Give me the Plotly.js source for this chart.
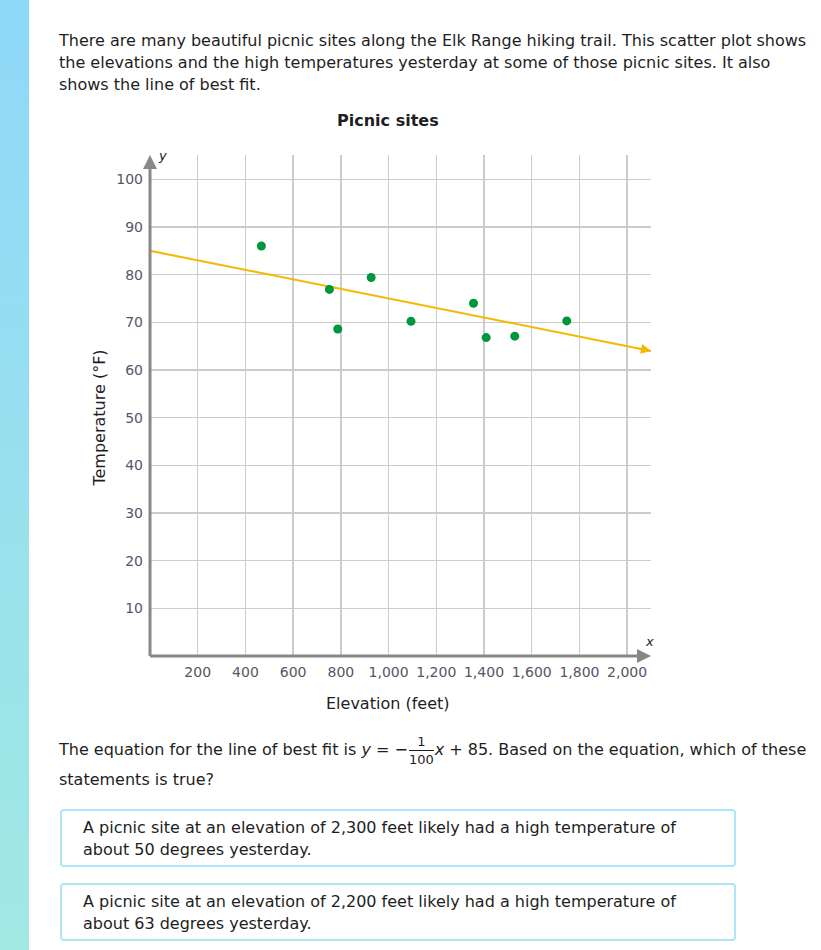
<!DOCTYPE html>
<html>
<head>
<meta charset="utf-8">
<script src="https://cdn.plot.ly/plotly-3.0.1.min.js"></script>
<style>
  html, body { margin:0; padding:0; background:#fff; }
  body { width:821px; height:950px; position:relative; overflow:hidden;
         font-family:"DejaVu Sans",sans-serif; color:#1e1e1e; }
  #bar { position:absolute; left:0; top:0; width:29px; height:950px;
         background:linear-gradient(#8ed8f9,#a2e8e3); }
  #intro { position:absolute; left:59px; top:30px; font-size:16px; line-height:22px; white-space:nowrap; }
  #chart { position:absolute; left:0; top:0; width:821px; height:720px; }
  #eq { position:absolute; left:59px; top:733px; font-size:16px; line-height:22px; white-space:nowrap; }
  .frac { display:inline-block; vertical-align:middle; text-align:center; font-size:13px; line-height:19px; margin:0 1px; }
  .frac .num { display:block; border-bottom:1px solid #1e1e1e; padding:0 1px; line-height:17px; }
  .frac .den { display:block; line-height:17px; }
  #q2 { position:absolute; left:59px; top:770px; font-size:16px; white-space:nowrap; }
  .box { position:absolute; left:60px; width:672px; height:54px; border:2px solid #aee6f9; border-radius:4px;
         font-size:16px; line-height:22px; white-space:nowrap; }
  .box div { position:absolute; left:21px; top:6px; }
</style>
</head>
<body>
<div id="bar"></div>
<div id="intro">There are many beautiful picnic sites along the Elk Range hiking trail. This scatter plot shows<br>the elevations and the high temperatures yesterday at some of those picnic sites. It also<br>shows the line of best fit.</div>
<div id="chart"></div>
<div id="eq">The equation for the line of best fit is <i>y</i> = &minus;<span class="frac"><span class="num">1</span><span class="den">100</span></span><i>x</i> + 85. Based on the equation, which of these</div>
<div id="q2">statements is true?</div>
<div class="box" style="top:809px;"><div>A picnic site at an elevation of 2,300 feet likely had a high temperature of<br>about 50 degrees yesterday.</div></div>
<div class="box" style="top:883px;"><div>A picnic site at an elevation of 2,200 feet likely had a high temperature of<br>about 63 degrees yesterday.</div></div>
<script>
// Data
const elevation = [467, 752, 787, 927, 1094, 1356, 1409, 1529, 1747];
const temperature = [86.0, 76.9, 68.6, 79.4, 70.2, 74.0, 66.8, 67.1, 70.3];
const fitX = [0, 2100];
const fitY = fitX.map(x => -x/100 + 85); // line of best fit y = -x/100 + 85
const xTicks = [200, 400, 600, 800, 1000, 1200, 1400, 1600, 1800, 2000];
const xTickText = ["200","400","600","800","1,000","1,200","1,400","1,600","1,800","2,000"];
const yTicks = [10, 20, 30, 40, 50, 60, 70, 80, 90, 100];

const FONT = '"DejaVu Sans",sans-serif';
const AX = '#888888';
const FIT = '#f5b700';

const traces = [
  { x: fitX, y: fitY, mode: 'lines', line: {color:FIT, width:2}, hoverinfo:'skip', cliponaxis:false },
  { x: elevation, y: temperature, mode: 'markers', marker: {color:'#00963c', size:9}, cliponaxis:false }
];

const layout = {
  width: 821, height: 720,
  margin: {l:150, r:170, t:155, b:64},
  paper_bgcolor: 'rgba(0,0,0,0)', plot_bgcolor: 'rgba(0,0,0,0)',
  showlegend: false,
  font: {family: FONT, size: 14, color:'#555566'},
  xaxis: { range:[0,2100], tickvals:xTicks, ticktext:xTickText, showgrid:true, gridcolor:'#cccccc', gridwidth:1.5,
           zeroline:false, showline:false, ticks:'', ticklabelstandoff:6, fixedrange:true },
  yaxis: { range:[0,105.1], tickvals:yTicks, showgrid:true, gridcolor:'#cccccc', gridwidth:1.5,
           zeroline:false, showline:false, ticks:'', ticklabelstandoff:6, fixedrange:true },
  shapes: [
    {type:'line', xref:'paper', yref:'paper', x0:0, y0:0, x1:0, y1:0.98, line:{color:AX, width:3}},
    {type:'line', xref:'paper', yref:'paper', x0:0, y0:0, x1:0.98, y1:0, line:{color:AX, width:3}},
    {type:'path', xref:'paper', yref:'paper', xsizemode:'pixel', ysizemode:'pixel', xanchor:0, yanchor:1,
     path:'M -7 -14 L 7 -14 L 0 0 Z', fillcolor:AX, line:{width:0}},
    {type:'path', xref:'paper', yref:'paper', xsizemode:'pixel', ysizemode:'pixel', xanchor:1, yanchor:0,
     path:'M -14 -7 L -14 7 L 0 0 Z', fillcolor:AX, line:{width:0}}
  ],
  annotations: [
    {text:'<b>Picnic sites</b>', xref:'paper', yref:'paper', x:0.475, y:1.068, xanchor:'center', yanchor:'middle', showarrow:false,
     font:{family:FONT, size:16, color:'#1e1e1e'}},
    {text:'Elevation (feet)', xref:'paper', yref:'paper', x:0.475, y:-0.094, xanchor:'center', yanchor:'middle', showarrow:false,
     font:{family:FONT, size:16, color:'#1e1e1e'}},
    {text:'Temperature (°F)', xref:'paper', yref:'paper', x:-0.0998, y:0.474, xanchor:'center', yanchor:'middle', textangle:-90, showarrow:false,
     font:{family:FONT, size:16, color:'#1e1e1e'}},
    {text:'<i>y</i>', xref:'paper', yref:'paper', x:0.024, y:1.0, xanchor:'center', yanchor:'middle', showarrow:false,
     font:{family:FONT, size:13, color:'#1e1e1e'}},
    {text:'<i>x</i>', xref:'paper', yref:'paper', x:0.998, y:0.028, xanchor:'center', yanchor:'middle', showarrow:false,
     font:{family:FONT, size:13, color:'#1e1e1e'}},
    {text:'', xref:'x', yref:'y', axref:'x', ayref:'y', x:fitX[1], y:fitY[1], ax:fitX[1]-60, ay:fitY[1]+0.6,
     showarrow:true, arrowhead:2, arrowsize:1, arrowwidth:2, arrowcolor:FIT, standoff:0}
  ]
};

Plotly.newPlot('chart', traces, layout, {displayModeBar:false, staticPlot:true});
</script>
</body>
</html>
